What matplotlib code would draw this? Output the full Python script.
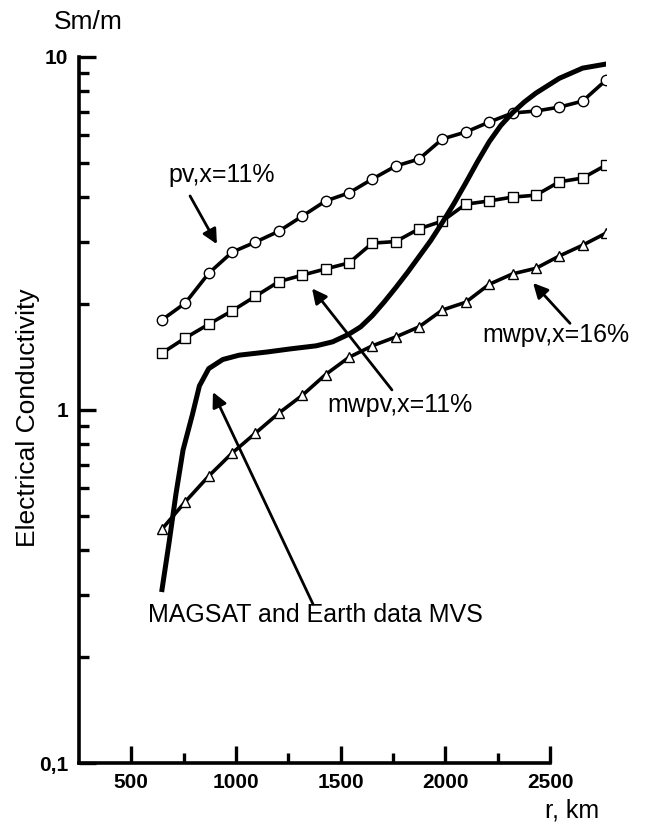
import matplotlib
matplotlib.use('Agg')
import matplotlib.pyplot as plt
from matplotlib.ticker import FixedLocator, NullFormatter

plt.rcParams['font.family'] = ['Liberation Sans', 'DejaVu Sans']

# r, km for the marked model curves
r_km = [600, 700, 800, 900, 1000, 1100, 1200, 1300, 1400, 1500,
        1600, 1700, 1800, 1900, 2000, 2100, 2200, 2300, 2400, 2500]

# conductivity, Sm/m
pv_11 = [1.80, 2.01, 2.44, 2.80, 2.99, 3.21, 3.54, 3.91, 4.12, 4.51,
         4.91, 5.14, 5.86, 6.13, 6.54, 6.94, 7.03, 7.21, 7.50, 8.60]
mwpv_11 = [1.45, 1.60, 1.75, 1.91, 2.10, 2.31, 2.41, 2.51, 2.61, 2.97,
           3.00, 3.26, 3.43, 3.83, 3.91, 4.01, 4.06, 4.43, 4.54, 4.94]
mwpv_16 = [0.46, 0.55, 0.65, 0.755, 0.86, 0.98, 1.10, 1.26, 1.41, 1.52,
           1.61, 1.72, 1.92, 2.02, 2.27, 2.43, 2.52, 2.73, 2.93, 3.17]

# MAGSAT and Earth data (MVS)
magsat_r = [600, 630, 660, 690, 730, 760, 800, 860, 930, 1050, 1150, 1260,
            1330, 1400, 1450, 1500, 1550, 1600, 1650, 1700, 1750, 1800,
            1850, 1900, 1950, 2000, 2050, 2100, 2150, 2200, 2300, 2400, 2500]
magsat_s = [0.31, 0.42, 0.58, 0.77, 0.97, 1.17, 1.31, 1.39, 1.43, 1.46, 1.49, 1.52,
            1.56, 1.64, 1.72, 1.85, 2.02, 2.22, 2.45, 2.72, 3.02, 3.40,
            3.85, 4.40, 5.05, 5.75, 6.40, 6.95, 7.45, 7.90, 8.70, 9.30, 9.55]

x_ticks = [500, 1000, 1500, 2000, 2500]
x_minor = [750, 1250, 1750, 2250]
y_ticks = [0.1, 1, 10]
y_labels = ['0,1', '1', '10']

W, H = 645, 830
fig = plt.figure(figsize=(W / 100, H / 100), dpi=100)
L, R, T, B = 79, 550, 57, 763
ax = fig.add_axes([L / W, 1 - B / H, (R - L) / W, (B - T) / H])

ax.set_yscale('log')
ax.set_ylim(0.1, 10)
ax.set_xlim(250, 2500)
for s in ['top', 'right']:
    ax.spines[s].set_visible(False)
for s in ['left', 'bottom']:
    ax.spines[s].set_linewidth(2.6)

ax.xaxis.set_major_locator(FixedLocator(x_ticks))
ax.xaxis.set_minor_locator(FixedLocator(x_minor))
ax.yaxis.set_major_locator(FixedLocator(y_ticks))
ax.yaxis.set_minor_locator(FixedLocator([k * d for d in (0.1, 1) for k in range(2, 10)]))
ax.yaxis.set_minor_formatter(NullFormatter())
ax.set_yticklabels(y_labels)
ax.tick_params(which='both', direction='in', width=2.4, labelsize=15)
ax.tick_params(which='major', length=12)
ax.tick_params(which='minor', length=7)
ax.tick_params(axis='x', pad=7)
ax.tick_params(axis='y', pad=8)
for lab in ax.get_xticklabels() + ax.get_yticklabels():
    lab.set_fontweight('bold')

fig.text(28 / W, 1 - 418 / H, 'Electrical Conductivity', rotation=90,
         fontsize=19, ha='center', va='center')
fig.text(88 / W, 1 - 22 / H, 'Sm/m', fontsize=19, ha='center', va='center')
fig.text(572 / W, 1 - 810 / H, 'r, km', fontsize=18, ha='center', va='center')

# the curves in the original sit on their own r frame (600 -> 2500),
# offset from the printed axis, and are clipped at its right edge
X_END = 606
k = (X_END - 162) / 1900
ax_d = fig.add_axes([L / W, 1 - B / H, (X_END - L) / W, (B - T) / H], sharey=ax)
ax_d.set_xlim(600 - (162 - L) / k, 2500)
ax_d.axis('off')

ax_d.plot(r_km, pv_11, color='black', lw=2.6, marker='o', ms=7.5, mfc='white',
          mec='black', mew=1.0, zorder=3)
ax_d.plot(r_km, mwpv_11, color='black', lw=2.6, marker='s', ms=6.5, mfc='white',
          mec='black', mew=1.0, zorder=3)
ax_d.plot(r_km, mwpv_16, color='black', lw=2.6, marker='^', ms=7.5, mfc='white',
          mec='black', mew=1.0, zorder=3)
ax_d.plot(magsat_r, magsat_s, color='black', lw=3.6, zorder=4)

arrow = dict(arrowstyle='-|>', color='black', lw=2.0, mutation_scale=22,
             shrinkA=0, shrinkB=0)
ax_d.text(626, 4.63, 'pv,x=11%', fontsize=18, ha='left', va='center')
ax_d.annotate('', xy=(835, 2.95), xytext=(720, 4.04), arrowprops=arrow)

ax_d.text(1618, 1.03, 'mwpv,x=11%', fontsize=18, ha='center', va='center')
ax_d.annotate('', xy=(1242, 2.21), xytext=(1584, 1.14), arrowprops=arrow)

ax_d.text(2286, 1.63, 'mwpv,x=16%', fontsize=18, ha='center', va='center')
ax_d.annotate('', xy=(2188, 2.29), xytext=(2346, 1.76), arrowprops=arrow,
              annotation_clip=False)

ax_d.text(540, 0.262, 'MAGSAT and Earth data MVS', fontsize=18, ha='left', va='center')
ax_d.annotate('', xy=(818, 1.124), xytext=(1246, 0.282), arrowprops=arrow)

fig.savefig('out.png', dpi=100)
